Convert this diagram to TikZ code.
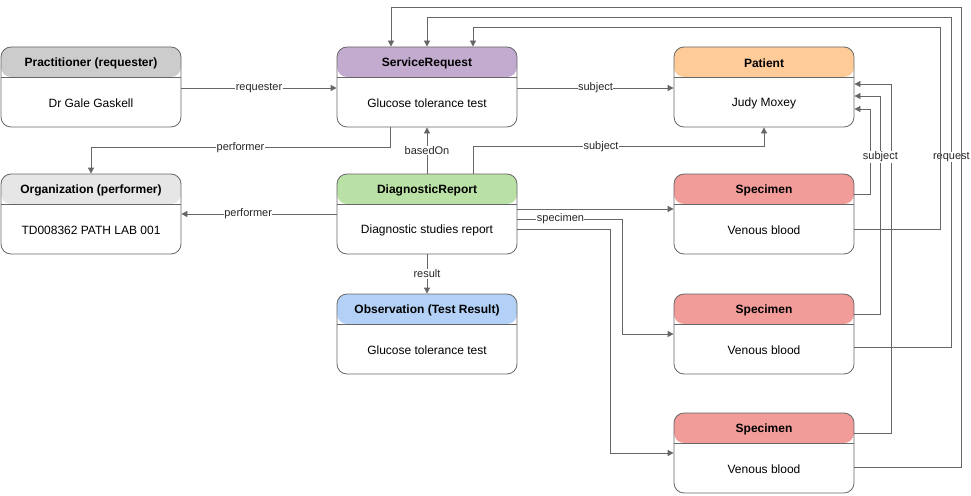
\documentclass[tikz,border=0pt]{standalone}
\usepackage{fontspec}
\setmainfont{Liberation Sans}
\usetikzlibrary{arrows.meta}

\definecolor{edgegrey}{HTML}{666666}
\definecolor{hdprac}{HTML}{CCCCCC}
\definecolor{hdorg}{HTML}{E6E6E6}
\definecolor{hdreq}{HTML}{C3ABD0}
\definecolor{hdpat}{HTML}{FFCC99}
\definecolor{hdrep}{HTML}{B9E0A5}
\definecolor{hdspec}{HTML}{F19C99}
\definecolor{hdobs}{HTML}{B3D1F7}

\tikzset{
  resbox/.style={draw=edgegrey, line width=0.8pt, rounded corners=10pt,
    minimum width=180pt, minimum height=80pt, inner sep=0pt},
  link/.style={draw=edgegrey, line width=0.8pt,
    -{Triangle[length=6pt,width=6pt]}},
  lbl/.style={fill=white, inner sep=0.5pt, font=\fontsize{11}{13}\selectfont, text=black!85},
}

% box with coloured head: name, centre, head colour, title, body
\newcommand\resource[5]{%
  \node[resbox, path picture={
      \fill[#3] (path picture bounding box.north west) rectangle
        ([yshift=-30pt]path picture bounding box.north east);
      \draw[edgegrey, line width=0.8pt] ([yshift=-30pt]path picture bounding box.north west) --
        ([yshift=-30pt]path picture bounding box.north east);
    }] (#1) at (#2) {};
  \node[font=\fontsize{12}{14}\selectfont\bfseries] (#1-t) at ([yshift=-16.5pt]#1.north) {#4};
  \node[font=\fontsize{12}{14}\selectfont] (#1-b) at ([yshift=-56.5pt]#1.north) {#5};
}

\begin{document}
\begin{tikzpicture}[x=1pt, y=-1pt]
  \useasboundingbox (0,0) rectangle (971,495);

  \resource{prac}{91,87}{hdprac}{Practitioner (requester)}{Dr Gale Gaskell}
  \resource{sr}{427,87}{hdreq}{ServiceRequest}{Glucose tolerance test}
  \resource{pat}{764,87}{hdpat}{Patient}{Judy Moxey}
  \resource{org}{91,214}{hdorg}{Organization (performer)}{TD008362 PATH LAB 001}
  \resource{dr}{427,214}{hdrep}{DiagnosticReport}{Diagnostic studies report}
  \resource{sp1}{764,214}{hdspec}{Specimen}{Venous blood}
  \resource{obs}{427,334}{hdobs}{Observation (Test Result)}{Glucose tolerance test}
  \resource{sp2}{764,334}{hdspec}{Specimen}{Venous blood}
  \resource{sp3}{764,453}{hdspec}{Specimen}{Venous blood}

  % requests and subjects
  \draw[link] ([yshift=-1pt]prac.east) -- node[lbl] {requester} ([yshift=-1pt]sr.west);
  \draw[link] ([yshift=-1pt]sr.east) -- node[lbl] {subject} ([yshift=-1pt]pat.west);
  \draw[link] ([xshift=-37pt]sr.south) -- ++(0,20) -| node[lbl, pos=0.25] {performer} (org.north);
  \draw[link] (dr.north) -- node[lbl] {basedOn} (sr.south);
  \draw[link] ([xshift=46pt]dr.north) -- ++(0,-27) -| node[lbl, pos=0.22] {subject} (pat.south);
  \draw[link] (dr.west) -- node[lbl, pos=0.57] {performer} (org.east);
  \draw[link] (dr.south) -- node[lbl] {result} (obs.north);

  % specimens
  \draw[link] ([yshift=5pt]dr.east) -- ([yshift=5pt]sp1.west);
  \draw[link] ([yshift=-15pt]dr.east) -- ++(93,0) |- (sp3.west);
  \draw[link] ([yshift=-5pt]dr.east) -- node[lbl, pos=0.41] {specimen} ++(105,0) |- (sp2.west);

  % specimen back to patient
  \draw[link] ([yshift=20pt]sp1.east) -- ++(16,0) |- ([yshift=-22pt]pat.east);
  \draw[link] ([yshift=20pt]sp3.east) -- ++(37,0) |- ([yshift=3pt]pat.east);
  \draw[link] ([yshift=20pt]sp2.east) -- ++(26,0) |- node[lbl, pos=0.36] {subject} ([yshift=-9pt]pat.east);

  % specimen back to request
  \draw[link] ([yshift=-13pt]sp2.east) -- ++(97,0) -- node[lbl, pos=0.576] {request} ++(0,-330) -| (sr.north);
  \draw[link] ([yshift=-15pt]sp1.east) -- ++(86,0) -- ++(0,-202) -| ([xshift=46pt]sr.north);
  \draw[link] ([yshift=-14pt]sp3.east) -- ++(107,0) -- ++(0,-460) -| ([xshift=-36pt]sr.north);
\end{tikzpicture}
\end{document}
